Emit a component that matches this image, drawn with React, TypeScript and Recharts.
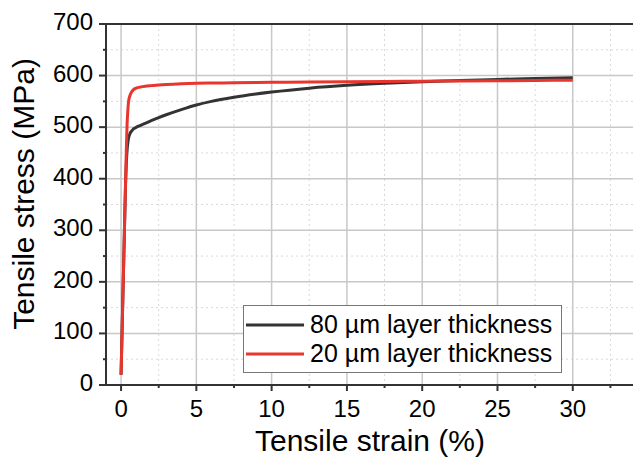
import React from 'react';
import { LineChart, Line, XAxis, YAxis, CartesianGrid, Legend, ReferenceLine, Label } from 'recharts';

const strain = [0, 0.1, 0.2, 0.3, 0.35, 0.4, 0.45, 0.5, 0.6, 0.7, 0.8, 1.0, 1.3, 1.6, 2, 2.5, 3, 4, 5, 6, 7.5, 10, 12.5, 15, 17.5, 20, 22.5, 25, 27.5, 30];
const stress80 = [20, 145, 270, 390, 430, 455, 470, 479, 488, 492.5, 496, 499.5, 503.5, 507.5, 512.5, 518.5, 524, 534, 543, 550, 558, 568, 575.5, 581, 585, 588, 590.5, 592.5, 594.5, 596];
const stress20 = [20, 145, 270, 395, 455, 505, 532, 550, 562, 568, 572, 575.5, 578, 579.5, 580.5, 581.5, 582.5, 584, 585, 585.5, 586, 587, 587.5, 588, 588.5, 589, 589.5, 590, 590.5, 591];
const seriesNames = ['80 µm layer thickness', '20 µm layer thickness'];

const xTicks = [0, 2.5, 5, 7.5, 10, 12.5, 15, 17.5, 20, 22.5, 25, 27.5, 30, 32.5];
const yTicks = [0, 50, 100, 150, 200, 250, 300, 350, 400, 450, 500, 550, 600, 650, 700];
const majorX = [0, 5, 10, 15, 20, 25, 30];
const minorX = [2.5, 7.5, 12.5, 17.5, 22.5, 27.5, 32.5];
const majorY = [100, 200, 300, 400, 500, 600];
const minorY = [50, 150, 250, 350, 450, 550, 650];

const data = strain.map((s, i) => ({ strain: s, s80: stress80[i], s20: stress20[i] }));

const font = '"Liberation Sans", Arial, sans-serif';
const axisColor = '#333';

const XTick = (props: any) => {
  const { x, y, payload } = props;
  const major = payload.value % 5 === 0;
  return (
    <g>
      <line x1={x} x2={x} y1={y} y2={y + (major ? 6 : 3)} stroke={axisColor} strokeWidth={2} />
      {major && (
        <text x={x} y={y + 32} textAnchor="middle" fontSize={24} fontFamily={font} fill="#000">
          {payload.value}
        </text>
      )}
    </g>
  );
};

const YTick = (props: any) => {
  const { x, y, payload } = props;
  const major = payload.value % 100 === 0;
  return (
    <g>
      <line x1={x} x2={x - (major ? 7 : 3)} y1={y} y2={y} stroke={axisColor} strokeWidth={2} />
      {major && (
        <text x={x - 13} y={y + 6} textAnchor="end" fontSize={24} fontFamily={font} fill="#000">
          {payload.value}
        </text>
      )}
    </g>
  );
};

const LegendBox = (props: any) => {
  const items = [...(props.payload || [])].sort(
    (a: any, b: any) => seriesNames.indexOf(a.value) - seriesNames.indexOf(b.value)
  );
  return (
    <div style={{ border: '1px solid #777', background: '#fff', padding: '4px 0 4px 2px', width: 319, boxSizing: 'border-box' }}>
      {items.map((p: any, i: number) => (
        <div key={i} style={{ display: 'flex', alignItems: 'center', height: 29, fontFamily: font, fontSize: 25, color: '#000', whiteSpace: 'nowrap' }}>
          <svg width={64} height={10} style={{ flex: 'none' }}>
            <line x1={0} x2={58} y1={5} y2={5} stroke={p.color} strokeWidth={3} />
          </svg>
          <span>{p.value}</span>
        </div>
      ))}
    </div>
  );
};

export default function App() {
  return (
    <div style={{ position: 'absolute', left: 0, top: 0, width: 633, height: 458, background: '#fff', overflow: 'hidden' }}>
      <LineChart width={633} height={458} data={data} margin={{ top: 24, right: 0, bottom: 0, left: 0 }}>
        <CartesianGrid stroke="#d9d9d9" strokeDasharray="2 3" strokeWidth={1} horizontalValues={minorY} verticalValues={minorX} />
        <CartesianGrid stroke="#c8c8c8" strokeWidth={1.5} horizontalValues={majorY} verticalValues={majorX} />
        <XAxis
          dataKey="strain"
          type="number"
          domain={[-1, 34]}
          allowDataOverflow
          ticks={xTicks}
          interval={0}
          tickSize={0}
          tickMargin={0}
          tickLine={false}
          tick={<XTick />}
          axisLine={{ stroke: axisColor, strokeWidth: 2 }}
          height={73}
        >
          <Label
            content={() => (
              <text x={370} y={451} textAnchor="middle" fontSize={30} fontFamily={font} fill="#000">
                Tensile strain (%)
              </text>
            )}
          />
        </XAxis>
        <YAxis
          type="number"
          domain={[0, 700]}
          ticks={yTicks}
          interval={0}
          tickSize={0}
          tickMargin={0}
          tickLine={false}
          tick={<YTick />}
          axisLine={{ stroke: axisColor, strokeWidth: 2 }}
          width={106}
        >
          <Label
            content={() => (
              <text x={34} y={194} transform="rotate(-90 34 194)" textAnchor="middle" fontSize={30} fontFamily={font} fill="#000">
                Tensile stress (MPa)
              </text>
            )}
          />
        </YAxis>
        <ReferenceLine y={700} stroke={axisColor} strokeWidth={2} />
        <Legend
          layout="horizontal"
          verticalAlign="middle"
          align="center"
          content={<LegendBox />}
          wrapperStyle={{ left: 243, top: 305, width: 320 }}
        />
        <Line dataKey="s80" name={seriesNames[0]} stroke="#333333" strokeWidth={3} dot={false} type="monotone" isAnimationActive={false} />
        <Line dataKey="s20" name={seriesNames[1]} stroke="#e8352e" strokeWidth={3} dot={false} type="monotone" isAnimationActive={false} />
      </LineChart>
    </div>
  );
}
